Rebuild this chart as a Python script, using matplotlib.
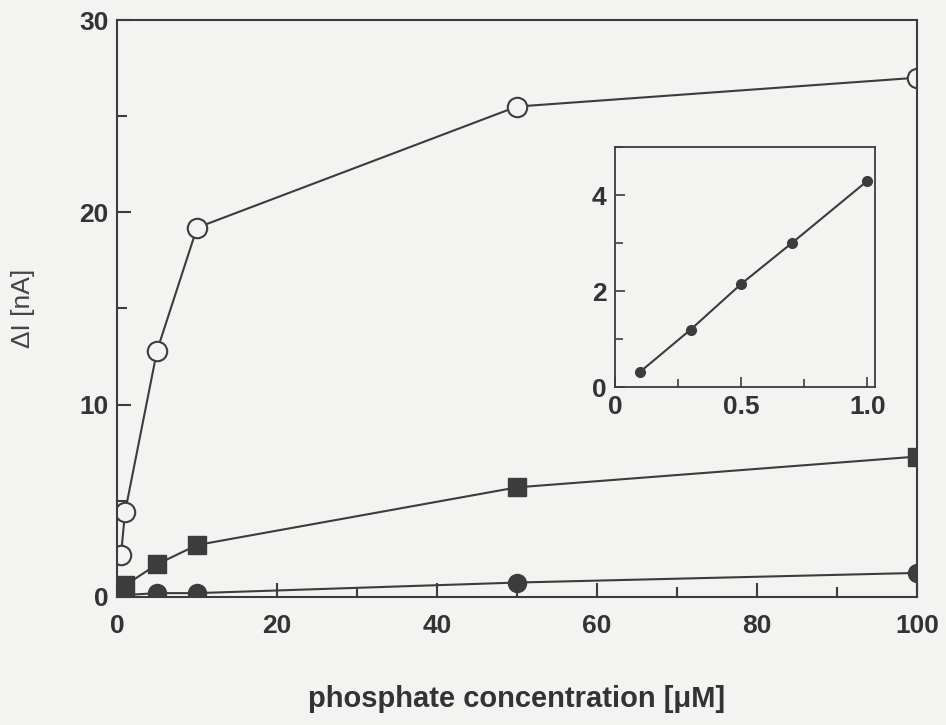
import matplotlib.pyplot as plt
import matplotlib.ticker as ticker

# main plot data
conc = [0.5, 1, 5, 10, 50, 100]
open_circles = [2.2, 4.4, 12.8, 19.2, 25.5, 27.0]

sq_conc = [1, 5, 10, 50, 100]
squares = [0.6, 1.7, 2.7, 5.7, 7.3]

dot_conc = [1, 5, 10, 50, 100]
dots = [0.1, 0.2, 0.2, 0.75, 1.25]

# inset data
inset_conc = [0.1, 0.3, 0.5, 0.7, 1.0]
inset_vals = [0.32, 1.2, 2.15, 3.0, 4.3]

bg = '#f3f3f1'
ink = '#3c3c3c'

plt.rcParams['font.family'] = ['Liberation Sans', 'DejaVu Sans']

fig = plt.figure(figsize=(9.46, 7.25), dpi=100, facecolor=bg)
ax = fig.add_axes([0.1237, 0.1766, 0.8456, 0.7958], facecolor=bg)

ax.plot(conc, open_circles, '-o', color=ink, mfc=bg, mec=ink, ms=14, mew=1.5, lw=1.5)
ax.plot(sq_conc, squares, '-s', color=ink, ms=13, lw=1.5)
ax.plot(dot_conc, dots, '-o', color=ink, ms=13, lw=1.5)

ax.set_xlim(0, 100)
ax.set_ylim(0, 30)
ax.xaxis.set_major_locator(ticker.MultipleLocator(20))
ax.xaxis.set_minor_locator(ticker.MultipleLocator(10))
ax.yaxis.set_major_locator(ticker.MultipleLocator(10))
ax.yaxis.set_minor_locator(ticker.MultipleLocator(5))
ax.tick_params(which='both', direction='in', color=ink, width=1.5, labelsize=19, labelcolor='#333333')
ax.tick_params(axis='x', pad=12)
ax.tick_params(axis='y', pad=6)
ax.tick_params(which='major', length=10)
ax.tick_params(which='minor', length=7)
for lbl in ax.get_xticklabels() + ax.get_yticklabels():
    lbl.set_fontweight('bold')
for s in ax.spines.values():
    s.set_color(ink)
    s.set_linewidth(1.5)

ax.set_xlabel('phosphate concentration [μM]', fontsize=21, fontweight='bold', color='#333333', labelpad=34)
ax.set_ylabel('ΔI [nA]', fontsize=19, color='#444444')
ax.yaxis.set_label_coords(-0.102, 0.5)

# inset
ins = fig.add_axes([0.650, 0.466, 0.275, 0.331], facecolor=bg)
ins.plot(inset_conc, inset_vals, '-o', color=ink, ms=7, lw=1.5)
ins.set_xlim(0, 1.03)
ins.set_ylim(0, 5)
ins.xaxis.set_major_locator(ticker.FixedLocator([0, 0.5, 1.0]))
ins.xaxis.set_major_formatter(ticker.FixedFormatter(['0', '0.5', '1.0']))
ins.xaxis.set_minor_locator(ticker.FixedLocator([0.25, 0.75]))
ins.yaxis.set_major_locator(ticker.MultipleLocator(2))
ins.yaxis.set_minor_locator(ticker.MultipleLocator(1))
ins.tick_params(which='both', direction='in', color=ink, width=1.2, labelsize=19, labelcolor='#333333', pad=6)
ins.tick_params(which='major', length=7)
ins.tick_params(which='minor', length=6)
for lbl in ins.get_xticklabels() + ins.get_yticklabels():
    lbl.set_fontweight('bold')
for s in ins.spines.values():
    s.set_color(ink)
    s.set_linewidth(1.3)

fig.savefig('out.png', dpi=100, facecolor=bg)
